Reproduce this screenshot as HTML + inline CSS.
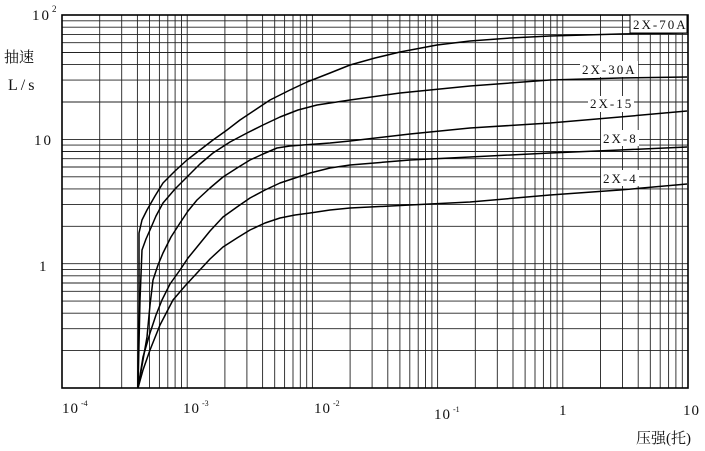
<!DOCTYPE html>
<html><head><meta charset="utf-8"><style>
html,body{margin:0;padding:0;background:#fff;}
svg{display:block;font-family:"Liberation Serif","Noto Serif CJK SC",serif;}
</style></head><body>
<svg width="705" height="451" viewBox="0 0 705 451" xmlns="http://www.w3.org/2000/svg">
<g stroke="#222" stroke-width="0.9" fill="none">
<path d="M99.7,15V388M121.7,15V388M137.4,15V388M149.5,15V388M159.4,15V388M167.8,15V388M175.1,15V388M181.5,15V388M187.2,15V388
M224.9,15V388M246.9,15V388M262.6,15V388M274.7,15V388M284.6,15V388M293,15V388M300.3,15V388M306.7,15V388M312.4,15V388
M350.1,15V388M372.1,15V388M387.8,15V388M399.9,15V388M409.8,15V388M418.2,15V388M425.5,15V388M431.9,15V388M437.6,15V388
M475.3,15V388M497.3,15V388M513,15V388M525.1,15V388M535,15V388M543.4,15V388M550.7,15V388M557.1,15V388M562.8,15V388
M600.5,15V388M622.5,15V388M638.2,15V388M650.3,15V388M660.2,15V388M668.6,15V388M675.9,15V388M682.3,15V388"/>
<path d="M62,350.6H688M62,328.7H688M62,313.2H688M62,301.1H688M62,291.3H688M62,283H688M62,275.8H688M62,269.4H688M62,263.7H688
M62,226.3H688M62,204.4H688M62,188.9H688M62,176.8H688M62,167H688M62,158.7H688M62,151.5H688M62,145.1H688M62,139.4H688
M62,102H688M62,80.1H688M62,64.6H688M62,52.5H688M62,42.7H688M62,34.4H688M62,27.2H688M62,20.8H688"/>
</g>
<rect x="62" y="15" width="626" height="373" fill="none" stroke="#000" stroke-width="1.6"/>
<g fill="none" stroke="#000" stroke-width="1.5" stroke-linejoin="round">
<polyline points="138,388 139,300 139,233 142,220 147,210 155,196 163,183 175,171 187,160 200,150 213,140 227,130 240,120 255,110 270,100 290,90 307,82 330,73 350,65 375,58 400,52 437,45 470,41 510,38 550,36 620,34 687,33"/>
<polyline points="138,388 140,300 142,250 146,239 150,230 156,216 163,203 175,189 187,177 200,164 213,153 230,142 247,133 263,125 280,117 298,110 317,105 350,100 400,93 470,86 550,80 620,78 687,77"/>
<polyline points="138,388 143,360 147,337 150,305 153,280 158,265 163,253 171,237 180,223 188,211 197,200 210,188 223,177 237,168 250,160 263,154 277,148 290,146 303,145 330,143 350,141 410,134 470,128 550,123 620,117 687,111"/>
<polyline points="138,388 143,357 150,333 156,315 162,300 170,284 180,270 188,258 197,247 210,231 223,217 237,207 250,198 265,190 280,183 295,178 310,173 330,168 350,165 410,160 470,157 550,153 620,150 687,147"/>
<polyline points="138,388 143,370 150,350 160,325 173,300 185,286 197,273 210,259 223,247 237,238 250,230 265,223 280,218 295,215 310,213 330,210 350,208 410,205 470,202 550,195 620,190 687,184"/>
</g>
<g font-size="13" fill="#111" letter-spacing="2">
<rect x="630" y="15" width="57" height="18" fill="#fff" stroke="#000" stroke-width="1"/>
<text x="633" y="29">2X-70A</text>
<rect x="580" y="61" width="58" height="16" fill="#fff"/>
<text x="582" y="74">2X-30A</text>
<rect x="588" y="96" width="46" height="16" fill="#fff"/>
<text x="590" y="108">2X-15</text>
<rect x="601" y="130" width="38" height="16" fill="#fff"/>
<text x="603" y="143">2X-8</text>
<rect x="601" y="170" width="38" height="16" fill="#fff"/>
<text x="603" y="183">2X-4</text>
</g>
<g font-size="15" fill="#111">
<text x="32" y="20" letter-spacing="2">10</text><text x="52" y="12" font-size="9">2</text>
<text x="34" y="145" letter-spacing="2">10</text>
<text x="39" y="271">1</text>
<text x="4" y="62" font-size="15">抽速</text>
<text x="8" y="90" font-size="16" letter-spacing="3">L/s</text>
<text x="62" y="413" letter-spacing="1">10</text><text x="81" y="406" font-size="8">-4</text>
<text x="183" y="413" letter-spacing="1">10</text><text x="202" y="406" font-size="8">-3</text>
<text x="314" y="413" letter-spacing="1">10</text><text x="333" y="406" font-size="8">-2</text>
<text x="434" y="419" letter-spacing="1">10</text><text x="453" y="412" font-size="8">-1</text>
<text x="559" y="415">1</text>
<text x="683" y="415" letter-spacing="1">10</text>
<text x="636" y="443" font-size="15">压强(托)</text>
</g>
</svg>
</body></html>
